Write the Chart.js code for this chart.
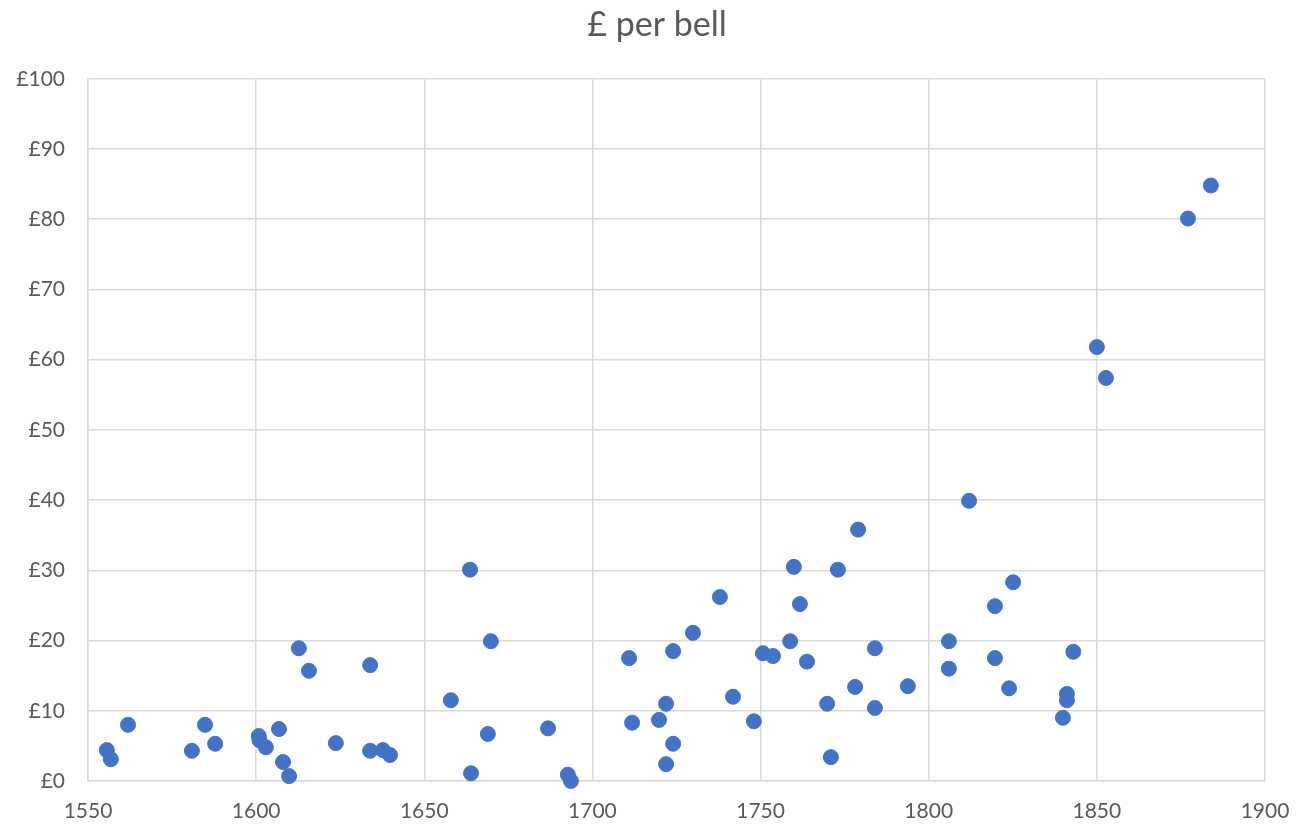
<!DOCTYPE html>
<html lang="en">
<head>
  <meta charset="UTF-8">
  <title>£ per bell</title>
  <script src="https://cdn.jsdelivr.net/npm/chart.js@4/dist/chart.umd.min.js"></script>
  <style>
    html, body { margin: 0; padding: 0; background: #fff; }
  </style>
</head>
<body>
  <canvas id="chart" width="1314" height="824"></canvas>
  <script>
    // year cast, cost per bell in pounds
    const years = [
      1555.6, 1556.8, 1561.9, 1580.9, 1584.8, 1587.8, 1600.8, 1601.0, 1602.9, 1606.8,
      1608.0, 1609.8, 1612.7, 1615.7, 1623.7, 1633.9, 1633.9, 1637.7, 1639.8, 1657.9,
      1663.6, 1663.9, 1668.9, 1669.8, 1686.8, 1692.7, 1693.6, 1710.9, 1711.8, 1719.8,
      1721.9, 1721.9, 1724.0, 1724.0, 1729.9, 1737.9, 1741.8, 1748.0, 1750.7, 1753.7,
      1758.8, 1759.9, 1761.7, 1763.8, 1769.8, 1770.9, 1773.0, 1778.1, 1779.0, 1784.0,
      1784.0, 1793.8, 1806.0, 1806.0, 1812.0, 1819.7, 1819.7, 1823.9, 1825.1, 1839.9,
      1841.1, 1841.1, 1843.0, 1850.0, 1852.7, 1877.1, 1883.9
    ];
    const pounds = [
      4.4, 3.1, 8.0, 4.3, 8.0, 5.3, 6.4, 5.8, 4.8, 7.4,
      2.7, 0.7, 18.9, 15.7, 5.4, 16.5, 4.3, 4.4, 3.7, 11.5,
      30.1, 1.1, 6.7, 19.9, 7.5, 0.9, 0.0, 17.5, 8.3, 8.7,
      11.0, 2.4, 18.5, 5.3, 21.1, 26.2, 12.0, 8.5, 18.2, 17.8,
      19.9, 30.5, 25.2, 17.0, 11.0, 3.4, 30.1, 13.4, 35.8, 18.9,
      10.4, 13.5, 19.9, 16.0, 39.9, 24.9, 17.5, 13.2, 28.3, 9.0,
      12.4, 11.5, 18.4, 61.8, 57.4, 80.1, 84.8
    ];

    const points = years.map((y, i) => ({ x: y, y: pounds[i] }));

    const textColor = '#595959';
    const gridColor = '#d9d9d9';
    const font = 'Lato, "Liberation Sans", sans-serif';

    const ctx = document.getElementById('chart').getContext('2d');
    const myChart = new Chart(ctx, {
      type: 'scatter',
      data: {
        datasets: [{
          label: '£ per bell',
          data: points,
          backgroundColor: '#4472c4',
          borderColor: '#4472c4',
          pointRadius: 7.5,
          pointHoverRadius: 7.5,
          clip: false
        }]
      },
      options: {
        responsive: false,
        animation: false,
        layout: { padding: 0 },
        plugins: {
          legend: { display: false },
          tooltip: { enabled: false },
          title: {
            display: true,
            text: '£ per bell',
            color: textColor,
            font: { family: font, size: 34, weight: 'normal' },
            padding: { top: 5, bottom: 33 }
          }
        },
        scales: {
          x: {
            type: 'linear',
            min: 1550,
            max: 1900,
            ticks: {
              stepSize: 50,
              color: textColor,
              font: { family: font, size: 21 },
              padding: 18,
              callback: v => String(v)
            },
            grid: { color: gridColor, lineWidth: 1.5, drawTicks: false },
            border: { color: gridColor, width: 1.5 },
            afterFit: s => { s.height = 43; }
          },
          y: {
            min: 0,
            max: 100,
            ticks: {
              stepSize: 10,
              color: textColor,
              font: { family: font, size: 21 },
              padding: 23,
              callback: v => '£' + v
            },
            grid: { color: gridColor, lineWidth: 1.5, drawTicks: false },
            border: { color: gridColor, width: 1.5 },
            afterFit: s => { s.width = 88; }
          },
          // empty right-hand gutter so the title stays centred on the page
          gutter: {
            position: 'right',
            min: 0,
            max: 100,
            ticks: { display: false },
            grid: { display: false },
            border: { display: false },
            afterFit: s => { s.width = 49; }
          }
        }
      }
    });
  </script>
</body>
</html>
